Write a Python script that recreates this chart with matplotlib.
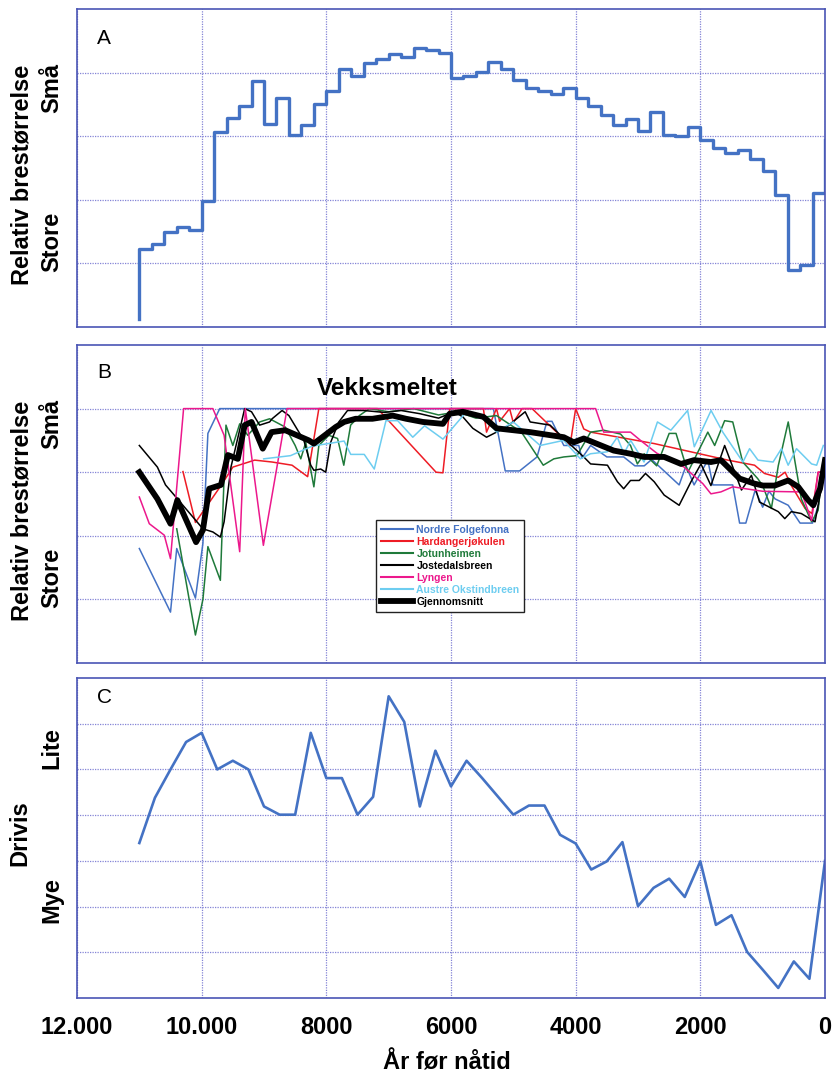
import numpy as np
import matplotlib
matplotlib.use("Agg")
import matplotlib.pyplot as plt
from matplotlib.lines import Line2D
from matplotlib.transforms import blended_transform_factory

plt.rcParams['font.family'] = ['Liberation Sans', 'DejaVu Sans']

# ---------------- data ----------------
# A: relative glacier size, 200-year bins from 11000 BP to present
a_bin_edges = np.arange(11000, -1, -200)
a_start_value = 0.12
a_values = [1.225, 1.30, 1.50, 1.565, 1.52, 1.98, 3.07, 3.29, 3.47, 3.87,
            3.19, 3.60, 3.02, 3.18, 3.51, 3.71, 4.05, 3.94, 4.15, 4.21,
            4.29, 4.25, 4.38, 4.35, 4.31, 3.92, 3.94, 4.01, 4.16, 4.05,
            3.89, 3.76, 3.71, 3.66, 3.76, 3.60, 3.48, 3.34, 3.17, 3.27,
            3.08, 3.38, 3.02, 3.01, 3.15, 2.94, 2.81, 2.74, 2.79, 2.64,
            2.46, 2.08, 0.90, 0.97, 2.11]
a_end_value = 2.94

# B: individual glacier records and their mean
folgefonna_yr = [11000, 10500, 10400, 10100, 9980, 9900, 9710, 5320, 5130, 4900,
                 4620, 4460, 4380, 4190, 3950, 3900, 3760, 3500, 3230, 3050,
                 2900, 2780, 2340, 2230, 2100, 1880, 1800, 1480, 1370, 1270,
                 1120, 1000, 900, 800, 590, 400, 200, 100]
folgefonna_val = [1.80, 0.80, 1.80, 1.02, 1.88, 3.61, 4.00, 4.00, 3.02, 3.02,
                  3.24, 3.80, 3.80, 3.42, 3.42, 3.22, 3.42, 3.24, 3.24, 3.10,
                  3.10, 3.20, 2.80, 3.10, 2.80, 3.19, 2.80, 2.80, 2.20, 2.20,
                  2.72, 2.45, 2.70, 2.58, 2.48, 2.20, 2.20, 2.50]

hardanger_yr = [10300, 10100, 9690, 9500, 9150, 8870, 8550, 8300, 8120, 7180,
                6240, 6130, 6020, 5480, 5430, 5270, 5220, 5060, 5000, 4860,
                4700, 4200, 4090, 4000, 3870, 3760, 2740, 1560, 1130, 970,
                750, 640, 540, 320, 210, 110, 30]
hardanger_val = [3.01, 2.21, 2.79, 3.08, 3.19, 3.16, 3.11, 2.93, 4.00, 4.00,
                 3.00, 2.99, 4.00, 4.00, 3.63, 4.00, 3.80, 4.00, 3.78, 4.00,
                 4.00, 3.53, 3.42, 4.00, 3.68, 3.63, 3.45, 3.19, 3.11, 2.98,
                 2.92, 3.00, 2.79, 2.43, 2.35, 3.00, 3.00]

jotunheimen_yr = [10400, 10100, 9980, 9900, 9700, 9610, 9500, 9390, 9260, 9070,
                  8910, 8660, 8500, 8410, 8330, 8200, 8120, 7960, 7820, 7720,
                  7610, 7470, 7310, 7000, 6600, 6200, 5900, 5600, 5270, 4870,
                  4520, 4350, 4190, 3980, 3760, 3550, 3280, 3120, 3010, 2900,
                  2700, 2500, 2390, 2200, 1880, 1770, 1610, 1480, 1320, 1080,
                  1000, 860, 750, 590, 380, 215, 110, 30]
jotunheimen_val = [2.11, 0.44, 1.00, 1.83, 1.30, 3.74, 3.42, 3.76, 3.58, 3.79,
                   3.84, 3.71, 3.42, 3.21, 3.47, 2.77, 3.42, 3.58, 3.53, 3.11,
                   3.74, 3.89, 4.00, 3.95, 4.00, 3.90, 3.95, 3.85, 3.89, 3.63,
                   3.11, 3.21, 3.24, 3.26, 3.63, 3.66, 3.60, 3.42, 3.13, 3.29,
                   3.10, 3.61, 3.61, 3.00, 3.63, 3.42, 3.81, 3.79, 3.16, 2.90,
                   2.79, 2.43, 3.10, 3.79, 2.58, 2.22, 2.40, 3.20]

jostedal_yr = [11000, 10710, 10580, 10440, 9980, 9820, 9700, 9640, 9530, 9310,
               9200, 9070, 8910, 8870, 8710, 8600, 8360, 8250, 8200, 8090,
               8010, 7930, 7800, 7660, 7400, 7070, 6800, 6500, 6200, 5950,
               5810, 5650, 5430, 5270, 5110, 4810, 4730, 4410, 4190, 3870,
               3760, 3490, 3330, 3230, 3120, 2980, 2880, 2740, 2580, 2340,
               2150, 1990, 1830, 1610, 1340, 1180, 1050, 750, 645, 540,
               380, 160, 30]
jostedal_val = [3.42, 3.08, 2.80, 2.64, 2.11, 2.06, 1.98, 2.22, 3.08, 4.00,
                3.95, 3.74, 3.79, 3.84, 3.97, 3.89, 3.50, 3.11, 3.03, 3.05,
                3.00, 3.47, 3.79, 3.97, 3.97, 3.94, 3.97, 3.92, 3.85, 3.95,
                3.87, 3.69, 3.55, 3.63, 3.71, 3.95, 3.79, 3.74, 3.53, 3.24,
                3.13, 3.11, 2.85, 2.74, 2.87, 2.87, 2.98, 2.85, 2.64, 2.48,
                2.85, 3.13, 2.79, 3.42, 2.72, 2.95, 2.53, 2.38, 2.27, 2.38,
                2.35, 2.22, 2.90]

lyngen_yr = [11000, 10840, 10600, 10500, 10290, 9820, 9640, 9390, 9300, 9010,
             8630, 3680, 3550, 3120, 2960, 2700, 2260, 1960, 1830, 1670,
             1480, 1000, 380, 215, 110, 20]
lyngen_val = [2.61, 2.19, 2.01, 1.64, 4.00, 4.00, 3.58, 1.75, 4.00, 1.85,
              4.00, 4.00, 3.63, 3.63, 3.50, 3.30, 3.08, 2.82, 2.66, 2.69,
              2.77, 2.70, 2.69, 2.24, 3.00, 3.00]

okstind_yr = [9005, 8575, 8226, 7715, 7608, 7392, 7231, 7043, 6855, 6613,
              6424, 6129, 5779, 5483, 5268, 5000, 4570, 4193, 3924, 3763,
              3494, 3333, 3225, 3118, 2903, 2688, 2473, 2204, 2097, 1828,
              1640, 1317, 1210, 1075, 833, 699, 591, 457, 215, 134, 27]
okstind_val = [3.21, 3.26, 3.41, 3.49, 3.28, 3.28, 3.05, 3.81, 3.81, 3.55,
               3.73, 3.52, 3.92, 3.89, 3.63, 3.79, 3.42, 3.50, 3.21, 3.29,
               3.32, 3.55, 3.29, 3.50, 3.16, 3.79, 3.66, 3.97, 3.40, 3.97,
               3.63, 3.16, 3.37, 3.19, 3.16, 3.37, 3.11, 3.37, 3.13, 3.11, 3.42]

mean_yr = [11000, 10710, 10500, 10390, 10090, 9980, 9880, 9690, 9580, 9420,
           9310, 9200, 9020, 8880, 8660, 8280, 8200, 7850, 7715, 7530,
           7260, 6935, 6720, 6450, 6130, 6020, 5810, 5480, 5270, 4730,
           4190, 4030, 3870, 3390, 3120, 2900, 2580, 2310, 2100, 1830,
           1670, 1370, 1130, 995, 806, 591, 430, 269, 188, 80, 0]
mean_val = [3.00, 2.58, 2.19, 2.56, 1.90, 2.09, 2.74, 2.80, 3.27, 3.21,
            3.74, 3.79, 3.37, 3.63, 3.66, 3.50, 3.45, 3.71, 3.79, 3.84,
            3.84, 3.89, 3.84, 3.79, 3.76, 3.92, 3.95, 3.87, 3.69, 3.63,
            3.55, 3.47, 3.53, 3.34, 3.29, 3.24, 3.24, 3.13, 3.19, 3.16,
            3.19, 2.90, 2.82, 2.79, 2.79, 2.87, 2.77, 2.56, 2.48, 2.74, 3.19]

# C: drift ice, 250-year samples
c_years = np.arange(11000, -1, -250)
c_values = [3.39, 4.38, 5.00, 5.60, 5.80, 5.00, 5.19, 5.00, 4.19, 4.01,
            4.01, 5.80, 4.81, 4.81, 4.01, 4.40, 6.60, 6.04, 4.19, 5.41,
            4.63, 5.19, 4.81, 4.41, 4.01, 4.21, 4.21, 3.57, 3.38, 2.81,
            2.99, 3.41, 2.01, 2.41, 2.61, 2.21, 2.99, 1.60, 1.81, 1.01,
            0.62, 0.22, 0.80, 0.42, 3.00]

x_ticks = [12000, 10000, 8000, 6000, 4000, 2000, 0]
x_tick_labels = ["12.000", "10.000", "8000", "6000", "4000", "2000", "0"]

series_b = [
    ("Nordre Folgefonna", folgefonna_yr, folgefonna_val, "#4472c4"),
    ("Hardangerjøkulen", hardanger_yr, hardanger_val, "#ee1c25"),
    ("Jotunheimen", jotunheimen_yr, jotunheimen_val, "#1f7a3a"),
    ("Jostedalsbreen", jostedal_yr, jostedal_val, "#000000"),
    ("Lyngen", lyngen_yr, lyngen_val, "#ec188c"),
    ("Austre Okstindbreen", okstind_yr, okstind_val, "#6dcdf0"),
]
mean_label = "Gjennomsnitt"

# ---------------- figure ----------------
BLUE = "#4472c4"
GRID = "#8484d6"
SPINE = "#4a55b5"
W, H = 833, 1075
fig = plt.figure(figsize=(W / 100, H / 100), dpi=100)


def box(l, t, r, b):
    return [l / W, 1 - b / H, (r - l) / W, (b - t) / H]


axA = fig.add_axes(box(77, 9, 825, 327))
axB = fig.add_axes(box(77, 345, 825, 663))
axC = fig.add_axes(box(77, 678, 825, 998))


def style(ax, ymax):
    ax.set_xlim(12000, 0)
    ax.set_ylim(0, ymax)
    ax.set_xticks(x_ticks)
    ax.set_yticks(range(1, ymax))
    ax.grid(True, color=GRID, linestyle=(0, (1, 1)), linewidth=0.9)
    ax.set_axisbelow(True)
    ax.tick_params(length=0, labelleft=False, labelbottom=False)
    for s in ax.spines.values():
        s.set_color(SPINE)
        s.set_linewidth(1.2)


for ax, ymax in ((axA, 5), (axB, 5), (axC, 7)):
    style(ax, ymax)

bold = dict(fontsize=17, fontweight="bold")

# A
step_x = np.concatenate([[a_bin_edges[0]], a_bin_edges])
step_y = np.concatenate([[a_start_value], a_values, [a_end_value]])
axA.plot(step_x, step_y, drawstyle="steps-post", color=BLUE, lw=2.4)

# B
handles = []
for name, yr, val, col in series_b:
    axB.plot(yr, val, color=col, lw=1.1)
    handles.append(Line2D([], [], color=col, lw=1.5, label=name))
axB.plot(mean_yr, mean_val, color="black", lw=4.2, zorder=5,
         solid_joinstyle="round")
handles.append(Line2D([], [], color="black", lw=4.2, label=mean_label))
leg = axB.legend(handles=handles, loc="upper left", bbox_to_anchor=(0.4, 0.45),
                 borderaxespad=0, frameon=True, fancybox=False,
                 edgecolor="#222222", framealpha=1, handlelength=3.1,
                 handletextpad=0.3, labelspacing=0.2, borderpad=0.45,
                 prop=dict(family="Liberation Sans", weight="bold", size=7.5),
                 labelcolor=[c for *_, c in series_b] + ["black"])
leg.get_frame().set_linewidth(1.0)
axB.text(7030, 4.32, "Vekksmeltet", ha="center", va="center",
         fontsize=17.5, fontweight="bold")

# C
axC.plot(c_years, c_values, color=BLUE, lw=1.9)
axC.tick_params(labelbottom=True, pad=13)
axC.set_xticklabels(x_tick_labels, **bold)
axC.set_xlabel("År før nåtid", **bold)
axC.xaxis.set_label_coords(0.495, -0.167)

# panel letters
for ax, letter, yfrac in ((axA, "A", 0.906), (axB, "B", 0.913), (axC, "C", 0.939)):
    ax.text(0.027, yfrac, letter, transform=ax.transAxes, ha="left",
            va="center", fontsize=15)

# axis side labels
for ax, top, bottom, ty, by in ((axA, "Små", "Store", 3.76, 1.34),
                                (axB, "Små", "Store", 3.76, 1.34),
                                (axC, "Lite", "Mye", 5.47, 2.14)):
    tr = blended_transform_factory(ax.transAxes, ax.transData)
    ax.text(-0.034, ty, top, transform=tr, rotation=90, ha="center",
            va="center", **bold)
    ax.text(-0.034, by, bottom, transform=tr, rotation=90, ha="center",
            va="center", **bold)

fig.text(21.7 / W, 1 - 175 / H, "Relativ brestørrelse", rotation=90,
         ha="center", va="center", **bold)
fig.text(21.7 / W, 1 - 511 / H, "Relativ brestørrelse", rotation=90,
         ha="center", va="center", **bold)
fig.text(20 / W, 1 - 833 / H, "Drivis", rotation=90,
         ha="center", va="center", **bold)

fig.savefig("out.png", dpi=100)
